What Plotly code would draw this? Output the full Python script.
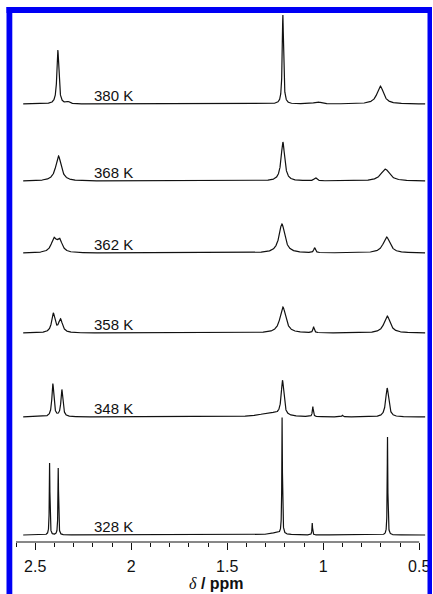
import numpy as np
import plotly.graph_objects as go

# ---- data ----
temps = ["380 K", "368 K", "362 K", "358 K", "348 K", "328 K"]
offsets = [438, 361, 289, 209, 125, 7]

# peak tables: centre (ppm), height, half-width (ppm)
p380_pos = [2.382, 2.33, 1.210, 1.03, 0.703]
p380_h = [54, 2, 89, 2, 18]
p380_w = [0.006, 0.010, 0.004, 0.02, 0.020]

p368_pos = [2.379, 1.210, 1.040, 0.677]
p368_h = [25, 39, 3, 12]
p368_w = [0.017, 0.011, 0.008, 0.026]

p362_pos = [2.403, 2.373, 1.215, 1.045, 0.670]
p362_h = [13, 12, 29, 5, 16]
p362_w = [0.016, 0.016, 0.018, 0.005, 0.021]

p358_pos = [2.406, 2.368, 1.210, 1.050, 0.667]
p358_h = [19, 13, 26, 6, 17]
p358_w = [0.010, 0.012, 0.018, 0.004, 0.019]

p348_pos = [2.408, 2.361, 1.212, 1.280, 1.054, 0.900, 0.667]
p348_h = [33, 27, 35, 4, 10, 1.5, 29]
p348_w = [0.006, 0.006, 0.008, 0.06, 0.003, 0.004, 0.009]

p328_pos = [2.425, 2.380, 1.214, 1.250, 1.057, 0.665]
p328_h = [72, 67, 117, 2, 12, 98]
p328_w = [0.0018, 0.0018, 0.0018, 0.04, 0.0018, 0.0018]

peaks = [
    (p380_pos, p380_h, p380_w),
    (p368_pos, p368_h, p368_w),
    (p362_pos, p362_h, p362_w),
    (p358_pos, p358_h, p358_w),
    (p348_pos, p348_h, p348_w),
    (p328_pos, p328_h, p328_w),
]

major_ticks = [2.5, 2.0, 1.5, 1.0, 0.5]
major_text = ["2.5", "2", "1.5", "1", "0.5"]
minor_ticks = [2.6, 2.4, 2.3, 2.2, 2.1, 1.9, 1.8, 1.7, 1.6, 1.4, 1.3, 1.2, 1.1,
               0.9, 0.8, 0.7, 0.6]

ppm = np.linspace(2.5625, 0.469, 8000)


def spectrum(pos, h, w):
    y = np.zeros_like(ppm)
    for c, a, g in zip(pos, h, w):
        y += a / (1.0 + ((ppm - c) / g) ** 2)
    return y


fig = go.Figure()
for name, off, (pos, h, w) in zip(temps, offsets, peaks):
    fig.add_trace(go.Scatter(
        x=ppm, y=spectrum(pos, h, w) + off, mode="lines",
        line=dict(color="#111111", width=1.2), name=name, showlegend=False,
        hoverinfo="skip"))

annotations = []
for name, off in zip(temps, offsets):
    annotations.append(dict(
        x=2.09, y=off + 9, xref="x", yref="y", text=name, showarrow=False,
        xanchor="center", yanchor="middle",
        font=dict(family="Liberation Sans, Arial", size=15, color="#111111")))

annotations.append(dict(
    x=0.488, y=-0.0765, xref="paper", yref="paper", showarrow=False,
    xanchor="center", yanchor="middle",
    text="<span style='font-family:Liberation Serif'><i>δ</i></span><b> / ppm</b>",
    font=dict(family="Liberation Sans, Arial", size=16, color="#111111")))

W, H = 433, 594
L, R, T, B = 16, 7, 0, 52
pw, ph = W - L - R, H - T - B


def px(x):
    return (x - L) / pw


def py(y):
    return (H - B - y) / ph


blue = "#0000f5"
shapes = [
    dict(type="line", xref="x", yref="paper", x0=2.6, x1=0.5, y0=0, y1=0,
         line=dict(color="#111111", width=1)),
    # blue frame (open at the bottom)
    dict(type="rect", xref="paper", yref="paper", x0=px(6.5), x1=px(12.3),
         y0=py(600), y1=py(7), fillcolor=blue, line=dict(width=0)),
    dict(type="rect", xref="paper", yref="paper", x0=px(6.5), x1=px(432),
         y0=py(13), y1=py(7), fillcolor=blue, line=dict(width=0)),
    dict(type="rect", xref="paper", yref="paper", x0=px(427.5), x1=px(432),
         y0=py(600), y1=py(7), fillcolor=blue, line=dict(width=0)),
]

fig.update_layout(
    width=W, height=H, margin=dict(l=L, r=R, t=T, b=B),
    paper_bgcolor="white", plot_bgcolor="white",
    annotations=annotations, shapes=shapes,
    xaxis=dict(range=[2.6, 2.6 - pw / 192.0], showgrid=False, zeroline=False,
               showline=False, tickmode="array", tickvals=major_ticks,
               ticktext=major_text, ticks="outside", ticklen=7, tickwidth=1,
               tickcolor="#111111", ticklabelstandoff=3,
               tickfont=dict(family="Liberation Sans, Arial", size=16,
                             color="#111111"),
               minor=dict(tickmode="array", tickvals=minor_ticks,
                          ticks="outside", ticklen=4, tickwidth=1,
                          tickcolor="#111111", showgrid=False),
               fixedrange=True),
    yaxis=dict(range=[0, ph], visible=False, fixedrange=True),
)

fig.write_html(
    "out.html",
    config={"displayModeBar": False, "staticPlot": True},
    post_script="document.body.style.margin='0';document.body.style.padding='0';"
                "document.documentElement.style.overflow='hidden';")
